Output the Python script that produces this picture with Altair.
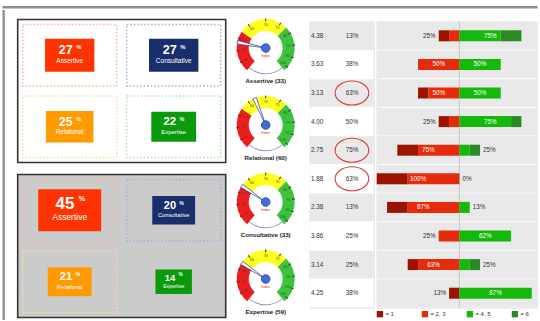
import math
import altair as alt
import pandas as pd

FONT = "Liberation Sans"

# ---------------- Style mix panels ----------------
STYLES = ["Assertive", "Consultative", "Relational", "Expertise"]
STYLE_COL = [0, 1, 0, 1]
STYLE_ROW = [0, 0, 1, 1]
STYLE_FILL = ["#ff3300", "#182f6c", "#ff9a00", "#0b9a0b"]
STYLE_DOT = ["#f5b3a3", "#a9aed3", "#fcd8a2", "#ade2a8"]
TOP_PCT = [27, 27, 25, 22]
BOTTOM_PCT = [45, 20, 21, 14]

# ---------------- Gauges ----------------
GAUGE_LABELS = ["Assertive (33)", "Relational (60)", "Consultative (33)", "Expertise (59)"]
GAUGE_NEEDLE = [22, 42, 30, 30]
BAND_START = [0, 30, 66]
BAND_END = [30, 66, 100]
BAND_COLORS = ["#ee1c1c", "#ffff1e", "#3cc43c"]
DIAL_POS = [7, 16, 25, 37, 50, 61, 71, 80, 89, 97]
DIAL_TEXT = ["45", "50", "55", "60", "70", "75", "80", "90", "95", "100"]

# ---------------- Table ----------------
SCORES = ["4.38", "3.63", "3.13", "4.00", "2.75", "1.88", "2.38", "3.86", "3.14", "4.25"]
SHARE = ["13%", "38%", "63%", "50%", "75%", "63%", "13%", "25%", "25%", "38%"]
CIRCLED = [False, False, True, False, True, True, False, False, False, False]

# ---------------- Diverging bars ----------------
RESP_NAMES = ["= 1", "= 2, 3", "= 4, 5", "= 6"]
RESP_COLORS = ["#9c1400", "#e62b0c", "#14b90b", "#2b8a23"]
RESP_1 = [12.5, 0, 12.5, 12.5, 25, 37.5, 25, 0, 12.5, 12.5]
RESP_23 = [12.5, 50, 37.5, 12.5, 50, 62.5, 62.5, 25, 50, 0]
RESP_45 = [50, 50, 50, 62.5, 12.5, 0, 12.5, 62.5, 12.5, 87.5]
RESP_6 = [25, 0, 0, 12.5, 12.5, 0, 0, 0, 12.5, 0]
NEG_LABEL = ["25%", "50%", "50%", "25%", "75%", "100%", "87%", "25%", "63%", "13%"]
POS_LABEL = ["75%", "50%", "50%", "75%", "25%", "0%", "13%", "62%", "25%", "87%"]

BOX = "M -1.5 -1 H 1.5 V 1 H -1.5 Z"
ELLIPSE = "M -1.4 0 A 1.4 1 0 1 1 1.4 0 A 1.4 1 0 1 1 -1.4 0 Z"
TWO_PI = 2 * math.pi
SWEEP = math.radians(140)

GRID_W, GRID_H = 208, 143
PX_X = GRID_W / 2.0   # pixels per grid unit, horizontally
PX_Y = GRID_H / 2.0   # pixels per grid unit, vertically


def spacer(w, h, fill="transparent"):
    return alt.Chart(pd.DataFrame({"v": [0]})).mark_point(size=0, strokeWidth=0, opacity=0).properties(
        width=w, height=h, view=alt.ViewBackground(stroke="transparent", fill=fill)
    )


def style_grid(pcts, bg, vline, hline):
    df = pd.DataFrame({
        "style": STYLES, "col": STYLE_COL, "row": STYLE_ROW,
        "pct": pcts, "fill": STYLE_FILL, "dot": STYLE_DOT,
    })
    xs = alt.Scale(domain=[0, 2], nice=False, zero=False)
    ys = alt.Scale(domain=[0, 2], nice=False, zero=False, reverse=True)
    base = alt.Chart(df).transform_calculate(
        col2="datum.col + 1", row2="datum.row + 1",
        cx="datum.col + 0.5", cy="datum.row + 0.5",
        fsNum="6.1 + 0.242 * datum.pct",
        fsLab="3.5 + 0.111 * datum.pct",
        fsPct="3.2 + 0.1 * datum.pct",
    ).transform_calculate(
        nx=f"datum.cx + (0.3 + 0.1 * datum.pct) / {PX_X}",
        ny=f"datum.cy - (3.0 + 0.07 * datum.pct) / {PX_Y}",
        px=f"datum.cx + (3.0 + 0.13 * datum.pct) / {PX_X}",
        py=f"datum.cy - (4.2 + 0.15 * datum.pct) / {PX_Y}",
        ly=f"datum.cy + (3.0 + 0.09 * datum.pct) / {PX_Y}",
    )
    dots = base.mark_rect(fillOpacity=0, strokeDash=[1.5, 2], strokeWidth=1.4,
                          xOffset=5, x2Offset=-5, yOffset=5, y2Offset=-5).encode(
        x=alt.X("col:Q", scale=xs, axis=alt.Axis(values=[1], grid=True, gridColor=vline, gridWidth=2,
                                                 labels=False, ticks=False, domain=False, title=None)),
        x2="col2:Q",
        y=alt.Y("row:Q", scale=ys, axis=alt.Axis(values=[1], grid=True, gridColor=hline, gridWidth=1.6,
                                                 labels=False, ticks=False, domain=False, title=None)),
        y2="row2:Q",
        stroke=alt.Stroke("dot:N", scale=None),
    )
    boxes = base.mark_point(shape=BOX, filled=True, opacity=1).encode(
        x=alt.X("cx:Q", scale=xs, axis=None),
        y=alt.Y("cy:Q", scale=ys, axis=None),
        size=alt.Size("pct:Q", scale=alt.Scale(domain=[14, 45], range=[590, 1764], zero=False), legend=None),
        color=alt.Color("fill:N", scale=None),
    )
    num = base.mark_text(font=FONT, fontWeight="bold", color="white", align="right", baseline="middle").encode(
        x=alt.X("nx:Q", scale=xs, axis=None),
        y=alt.Y("ny:Q", scale=ys, axis=None),
        text=alt.Text("pct:Q", format="d"),
        size=alt.Size("fsNum:Q", scale=None, legend=None),
    )
    pct = base.mark_text(font=FONT, fontWeight="bold", color="white", align="left", baseline="middle", text="%").encode(
        x=alt.X("px:Q", scale=xs, axis=None),
        y=alt.Y("py:Q", scale=ys, axis=None),
        size=alt.Size("fsPct:Q", scale=None, legend=None),
    )
    lab = base.mark_text(font=FONT, color="white", align="center", baseline="middle").encode(
        x=alt.X("cx:Q", scale=xs, axis=None),
        y=alt.Y("ly:Q", scale=ys, axis=None),
        text="style:N",
        size=alt.Size("fsLab:Q", scale=None, legend=None),
    )
    return alt.layer(dots, boxes, num, pct, lab).resolve_scale(size="independent").properties(
        width=GRID_W, height=GRID_H,
        view=alt.ViewBackground(fill=bg, stroke="#333333", strokeWidth=1.6),
    )


def gauge(label, needle):
    ts = alt.Scale(domain=[0, 100], range=[TWO_PI - SWEEP, TWO_PI + SWEEP])
    one = pd.DataFrame({"v": [0]})
    bands = alt.Chart(pd.DataFrame({"s": BAND_START, "e": BAND_END, "c": BAND_COLORS})).mark_arc(
        innerRadius=17, outerRadius=29).encode(
        theta=alt.Theta("s:Q", scale=ts, stack=None), theta2="e:Q", color=alt.Color("c:N", scale=None))
    outline = alt.Chart(one).mark_arc(innerRadius=25.4, outerRadius=26.2, color="#7a82c4").encode(
        theta=alt.value(SWEEP), theta2=alt.value(TWO_PI - SWEEP))
    dial = pd.DataFrame({"p": DIAL_POS, "t": DIAL_TEXT})
    ticks = alt.Chart(dial).transform_calculate(a="datum.p - 0.35", b="datum.p + 0.35").mark_arc(
        innerRadius=26.5, outerRadius=29.5, color="#333333").encode(
        theta=alt.Theta("a:Q", scale=ts, stack=None), theta2="b:Q")
    dial_text = alt.Chart(dial).mark_text(radius=23, fontSize=3.6, color="#444444", font=FONT).encode(
        theta=alt.Theta("p:Q", scale=ts, stack=None), text="t:N")
    ndl = alt.Chart(pd.DataFrame({"v": [needle]})).transform_calculate(
        a="datum.v - 1.3", b="datum.v + 1.3").mark_arc(
        innerRadius=0, outerRadius=29, fill="white", stroke="#2a3590", strokeWidth=0.7).encode(
        theta=alt.Theta("a:Q", scale=ts, stack=None), theta2="b:Q")
    hub = alt.Chart(one).mark_arc(outerRadius=4.3, fill="#3f6fd0", stroke="#203e8e", strokeWidth=0.8).encode(
        theta=alt.value(0), theta2=alt.value(TWO_PI))
    idx = alt.Chart(one).mark_text(radius=8, fontSize=3.6, color="#e01818", text="Index", font=FONT).encode(
        theta=alt.value(math.pi))
    cap = alt.Chart(one).mark_text(radius=33, fontSize=6.2, fontWeight="bold", color="#222222",
                                   text=label, font=FONT).encode(theta=alt.value(math.pi))
    return alt.layer(outline, bands, ticks, dial_text, ndl, hub, idx, cap).properties(width=78, height=77)


# table
tbl = pd.DataFrame({"i": list(range(10)), "score": SCORES, "share": SHARE, "circled": CIRCLED})
rows_scale = alt.Scale(domain=list(range(10)), paddingInner=0.03, paddingOuter=0.015)
tx = alt.Scale(domain=[0, 1], nice=False, zero=False)
ty = alt.Y("i:O", scale=rows_scale, axis=None)
t_bg = alt.Chart(tbl).mark_rect().encode(
    y=ty, color=alt.condition("datum.i % 2 == 0", alt.value("#e9e9e9"), alt.value("white")))
t_score = alt.Chart(tbl).mark_text(align="left", fontSize=6.3, color="#333333", font=FONT).encode(
    y=ty, x=alt.X(datum=0.02, scale=tx, axis=None), text="score:N")
t_share = alt.Chart(tbl).mark_text(align="center", fontSize=6.3, color="#333333", font=FONT).encode(
    y=ty, x=alt.X(datum=0.66, scale=tx, axis=None), text="share:N")
t_circ = alt.Chart(tbl).transform_filter("datum.circled").mark_point(
    shape=ELLIPSE, size=576, stroke="#e03a3a", strokeWidth=1.1, filled=False, opacity=1).encode(
    y=ty, x=alt.X(datum=0.66, scale=tx, axis=None))
table = alt.layer(t_bg, t_score, t_share, t_circ).properties(width=64, height=286)

# bars
segs = []
labs = []
for i in range(10):
    a, b, c, d = RESP_1[i], RESP_23[i], RESP_45[i], RESP_6[i]
    for name, x0, x1 in [(RESP_NAMES[0], -(a + b), -b), (RESP_NAMES[1], -b, 0),
                         (RESP_NAMES[2], 0, c), (RESP_NAMES[3], c, c + d)]:
        if x1 > x0:
            segs.append({"i": i, "resp": name, "x0": x0, "x1": x1})
    neg, pos_ = a + b, c + d
    labs.append({"i": i, "x": -neg / 2 if neg >= 40 else -neg, "kind": "in" if neg >= 40 else "left", "t": NEG_LABEL[i]})
    labs.append({"i": i, "x": pos_ / 2 if pos_ >= 40 else pos_, "kind": "in" if pos_ >= 40 else "right", "t": POS_LABEL[i]})
seg_df = pd.DataFrame(segs)
lab_df = pd.DataFrame(labs)
bx = alt.Scale(domain=[-100, 93.5], nice=False, zero=False)

b_bg = alt.Chart(tbl).mark_rect(color="#e9e9e9").encode(y=ty)
b_zero = alt.Chart(tbl.head(1)).mark_rule(color="#c4c4c4", strokeWidth=1).encode(x=alt.X(datum=0, scale=bx, axis=None))
b_bars = alt.Chart(seg_df).mark_bar(height=11).encode(
    y=ty,
    x=alt.X("x0:Q", scale=bx, axis=None), x2="x1:Q",
    color=alt.Color("resp:N", scale=alt.Scale(domain=RESP_NAMES, range=RESP_COLORS),
                    legend=alt.Legend(title=None, orient="none", legendX=374.4, legendY=305, direction="horizontal",
                                      columns=4, symbolType="square", symbolSize=40, symbolStrokeWidth=0,
                                      labelFontSize=6, labelColor="#333333", labelFont=FONT, columnPadding=20,
                                      gridAlign="all", padding=0, labelOffset=2)),
)
b_in = alt.Chart(lab_df).transform_filter("datum.kind == 'in'").mark_text(
    color="white", fontSize=6.3, font=FONT, align="center").encode(
    y=ty, x=alt.X("x:Q", scale=bx, axis=None), text="t:N")
b_left = alt.Chart(lab_df).transform_filter("datum.kind == 'left'").mark_text(
    color="#333333", fontSize=6.3, font=FONT, align="right", dx=-3).encode(
    y=ty, x=alt.X("x:Q", scale=bx, axis=None), text="t:N")
b_right = alt.Chart(lab_df).transform_filter("datum.kind == 'right'").mark_text(
    color="#333333", fontSize=6.3, font=FONT, align="left", dx=3).encode(
    y=ty, x=alt.X("x:Q", scale=bx, axis=None), text="t:N")
bars = alt.layer(b_bg, b_zero, b_bars, b_in, b_left, b_right).properties(width=160, height=286)

top_grid = style_grid(TOP_PCT, "white", "#b4b4b4", "#333333")
bottom_grid = style_grid(BOTTOM_PCT, "#cbcbcb", "#7a7a7a", "#555555")

left_col = alt.vconcat(spacer(GRID_W, 8), alt.vconcat(top_grid, bottom_grid, spacing=10), spacing=0)
gauge_col = alt.vconcat(*[gauge(l, n) for l, n in zip(GAUGE_LABELS, GAUGE_NEEDLE)], spacing=0)
right_col = alt.vconcat(spacer(225, 10), alt.hconcat(table, bars, spacing=1), spacing=0)
inner = alt.hconcat(alt.hconcat(left_col, gauge_col, spacing=0), right_col, spacing=4)
body = alt.hconcat(spacer(2.3, 310, "#8c8c8c"), inner, spacing=11.7)
chart = alt.vconcat(spacer(535, 2.5, "#8c8c8c"), body, spacing=0).properties(
    padding={"left": 1, "top": 4.5, "right": 0, "bottom": 0},
    background="white",
).configure_view(stroke=None).configure(font=FONT)

chart.save("out.html", embed_options={"renderer": "svg", "actions": False})
